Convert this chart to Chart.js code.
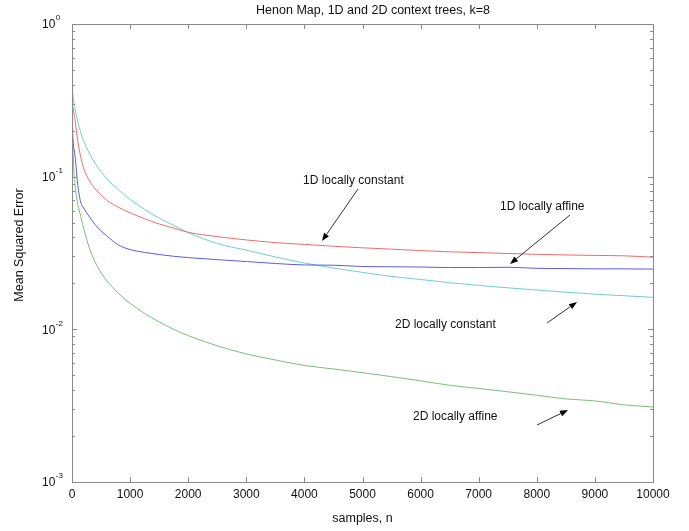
<!DOCTYPE html>
<html>
<head>
<meta charset="utf-8">
<script src="https://cdn.jsdelivr.net/npm/chart.js@4.4.1/dist/chart.umd.min.js"></script>
<style>
html,body{margin:0;padding:0;background:#fff;}
#c{display:block;}
</style>
</head>
<body>
<canvas id="c" width="689" height="531"></canvas>
<script>
// ---- data ----
const nSamples = [0, 10, 25, 50, 100, 150, 200, 300, 400, 500, 600, 800, 1000, 1250, 1500, 1750, 2000, 2500, 3000, 3500, 4000, 4500, 5000, 5500, 6000, 6500, 7000, 7500, 8000, 8500, 9000, 9500, 10000];

const mse1DConst = [0.30, 0.29, 0.27, 0.24, 0.17, 0.135, 0.114, 0.094, 0.083, 0.076, 0.070, 0.063, 0.058, 0.053, 0.049, 0.046, 0.0432, 0.0405, 0.0385, 0.0370, 0.0360, 0.0350, 0.0342, 0.0335, 0.0328, 0.0322, 0.0318, 0.0314, 0.0310, 0.0307, 0.0305, 0.0303, 0.0297];

const mse1DAffine = [0.21, 0.185, 0.16, 0.139, 0.088, 0.068, 0.0624, 0.0545, 0.0484, 0.0441, 0.0409, 0.0357, 0.0333, 0.0319, 0.0309, 0.0301, 0.0295, 0.0286, 0.0278, 0.0270, 0.0264, 0.0263, 0.0258, 0.0257, 0.0256, 0.0254, 0.0254, 0.0255, 0.0251, 0.0250, 0.0249, 0.0249, 0.0248];

const mse2DConst = [0.38, 0.36, 0.32, 0.28, 0.23, 0.195, 0.172, 0.142, 0.122, 0.108, 0.097, 0.082, 0.071, 0.061, 0.0535, 0.048, 0.043, 0.0365, 0.033, 0.0298, 0.0272, 0.0252, 0.0236, 0.0222, 0.0212, 0.0202, 0.0194, 0.0187, 0.0181, 0.0175, 0.0170, 0.0166, 0.0162];

const mse2DAffine = [0.9, 0.25, 0.125, 0.09, 0.066, 0.055, 0.046, 0.034, 0.0275, 0.0235, 0.0208, 0.0172, 0.0148, 0.0127, 0.0112, 0.0100, 0.0091, 0.0078, 0.0069, 0.0063, 0.0058, 0.0055, 0.0052, 0.0049, 0.0046, 0.0043, 0.0041, 0.0039, 0.0037, 0.0035, 0.0034, 0.0032, 0.0031];

const xTickValues = [0, 1000, 2000, 3000, 4000, 5000, 6000, 7000, 8000, 9000, 10000];
const yTickExponents = [0, -1, -2, -3];

const titleText = 'Henon Map, 1D and 2D context trees, k=8';
const xTitle = 'samples, n';
const yTitle = 'Mean Squared Error';

const annotations = [
  {text: '1D locally constant', tx: 303, ty: 181, ax1: 358, ay1: 189, ax2: 322, ay2: 241},
  {text: '1D locally affine',   tx: 500, ty: 207, ax1: 570, ay1: 215, ax2: 510, ay2: 264},
  {text: '2D locally constant', tx: 395, ty: 325, ax1: 547, ay1: 323, ax2: 577, ay2: 302},
  {text: '2D locally affine',   tx: 413, ty: 417, ax1: 537, ay1: 425, ax2: 568, ay2: 410}
];

const FONT = '"Liberation Sans", Arial, Helvetica, sans-serif';
const AXIS_COLOR = '#8a8a8a';
const TEXT_COLOR = '#111';

function series(arr) { return nSamples.map((n, i) => ({x: n, y: arr[i]})); }

const decorPlugin = {
  id: 'decor',
  afterDatasetsDraw(chart) {
    const ctx = chart.ctx;
    const xs = chart.scales.x, ys = chart.scales.y;
    const a = chart.chartArea;
    ctx.save();
    // box
    ctx.strokeStyle = AXIS_COLOR;
    ctx.lineWidth = 1;
    ctx.strokeRect(Math.round(a.left) + 0.5, Math.round(a.top) + 0.5, Math.round(a.right - a.left), Math.round(a.bottom - a.top));
    // x ticks (inward, top and bottom)
    ctx.beginPath();
    xTickValues.forEach(v => {
      const px = Math.round(xs.getPixelForValue(v)) + 0.5;
      ctx.moveTo(px, a.bottom); ctx.lineTo(px, a.bottom - 5);
      ctx.moveTo(px, a.top); ctx.lineTo(px, a.top + 5);
    });
    // y ticks (log, major + minor)
    for (let d = -3; d <= 0; d++) {
      for (let m = 1; m <= 9; m++) {
        if (d === 0 && m > 1) break;
        const v = m * Math.pow(10, d);
        const py = Math.round(ys.getPixelForValue(v)) + 0.5;
        const len = m === 1 ? 5 : 3;
        ctx.moveTo(a.left, py); ctx.lineTo(a.left + len, py);
        ctx.moveTo(a.right, py); ctx.lineTo(a.right - len, py);
      }
    }
    ctx.stroke();

    ctx.fillStyle = TEXT_COLOR;
    // x tick labels
    ctx.font = '12px ' + FONT;
    ctx.textAlign = 'center';
    ctx.textBaseline = 'middle';
    xTickValues.forEach(v => {
      ctx.fillText(String(v), xs.getPixelForValue(v), a.bottom + 13);
    });
    // y tick labels 10^k
    yTickExponents.forEach(e => {
      const py = ys.getPixelForValue(Math.pow(10, e));
      ctx.font = '12px ' + FONT;
      ctx.textAlign = 'left';
      ctx.textBaseline = 'middle';
      ctx.fillText('10', 42, py + 1);
      const w = ctx.measureText('10').width;
      ctx.font = '8px ' + FONT;
      ctx.fillText(String(e), 42 + w + 0.5, py - 6);
    });
    // titles
    ctx.font = '12.5px ' + FONT;
    ctx.textAlign = 'center';
    ctx.textBaseline = 'middle';
    ctx.fillText(titleText, 373, 11);
    ctx.fillText(xTitle, (a.left + a.right) / 2, 519);
    ctx.save();
    ctx.translate(20, 245);
    ctx.rotate(-Math.PI / 2);
    ctx.fillText(yTitle, 0, 0);
    ctx.restore();

    // annotations
    annotations.forEach(an => {
      ctx.font = '12px ' + FONT;
      ctx.textAlign = 'left';
      ctx.textBaseline = 'middle';
      ctx.fillStyle = TEXT_COLOR;
      ctx.fillText(an.text, an.tx, an.ty);
      const ang = Math.atan2(an.ay2 - an.ay1, an.ax2 - an.ax1);
      const hl = 8, hw = 3;
      const bx = an.ax2 - hl * Math.cos(ang), by = an.ay2 - hl * Math.sin(ang);
      ctx.strokeStyle = '#333';
      ctx.lineWidth = 1;
      ctx.beginPath();
      ctx.moveTo(an.ax1, an.ay1);
      ctx.lineTo(bx, by);
      ctx.stroke();
      ctx.fillStyle = '#000';
      ctx.beginPath();
      ctx.moveTo(an.ax2, an.ay2);
      ctx.lineTo(bx + hw * Math.sin(ang), by - hw * Math.cos(ang));
      ctx.lineTo(bx - hw * Math.sin(ang), by + hw * Math.cos(ang));
      ctx.closePath();
      ctx.fill();
    });
    ctx.restore();
  }
};

new Chart(document.getElementById('c'), {
  type: 'line',
  data: {
    datasets: [
      {label: '1D locally constant', data: series(mse1DConst), borderColor: '#ee6b6b'},
      {label: '1D locally affine', data: series(mse1DAffine), borderColor: '#5c5ce8'},
      {label: '2D locally constant', data: series(mse2DConst), borderColor: '#6ccfcf'},
      {label: '2D locally affine', data: series(mse2DAffine), borderColor: '#7abf7a'}
    ]
  },
  options: {
    responsive: false,
    devicePixelRatio: 1,
    animation: false,
    layout: {padding: {left: 0, right: 36, top: 24, bottom: 0}},
    elements: {
      line: {borderWidth: 1, cubicInterpolationMode: 'monotone', fill: false},
      point: {radius: 0, hoverRadius: 0}
    },
    plugins: {legend: {display: false}, tooltip: {enabled: false}, title: {display: false}},
    scales: {
      x: {
        type: 'linear', min: 0, max: 10000,
        grid: {display: false}, border: {display: false},
        ticks: {display: false, stepSize: 1000},
        afterFit(s) { s.height = 49; }
      },
      y: {
        type: 'logarithmic', min: 0.001, max: 1,
        grid: {display: false}, border: {display: false},
        ticks: {display: false},
        afterFit(s) { s.width = 72; }
      }
    }
  },
  plugins: [decorPlugin]
});
</script>
</body>
</html>
